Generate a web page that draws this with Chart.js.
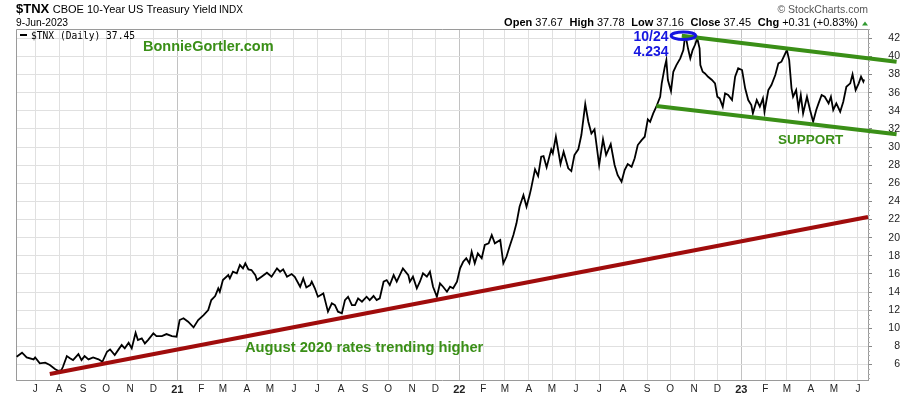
<!DOCTYPE html>
<html>
<head>
<meta charset="utf-8">
<script src="https://cdn.jsdelivr.net/npm/chart.js@4.4.0/dist/chart.umd.min.js"></script>
<style>
html,body{margin:0;padding:0;background:#fff;}
canvas{display:block;}
</style>
</head>
<body>
<canvas id="c" width="900" height="396"></canvas>
<script>
// ---------- DATA ----------
const dates = [
'2020-06-07','2020-06-14','2020-06-20','2020-06-29','2020-07-01','2020-07-07','2020-07-14','2020-07-20','2020-07-27','2020-07-31',
'2020-08-04','2020-08-06','2020-08-11','2020-08-15','2020-08-19','2020-08-26','2020-08-30','2020-09-03','2020-09-08','2020-09-14',
'2020-09-21','2020-09-26','2020-10-02','2020-10-06','2020-10-12','2020-10-17','2020-10-21','2020-10-25','2020-10-30','2020-11-03',
'2020-11-08','2020-11-11','2020-11-16','2020-11-20','2020-11-24','2020-12-01','2020-12-05','2020-12-12','2020-12-18','2020-12-25',
'2020-12-31',
'2021-01-04','2021-01-09','2021-01-15','2021-01-22','2021-01-28','2021-02-04','2021-02-10','2021-02-14','2021-02-19','2021-02-23',
'2021-02-25','2021-03-01','2021-03-08','2021-03-10','2021-03-14','2021-03-19','2021-03-23','2021-03-27','2021-03-30','2021-04-03',
'2021-04-07','2021-04-12','2021-04-14','2021-04-20','2021-04-27','2021-05-03','2021-05-10','2021-05-14','2021-05-18','2021-05-23',
'2021-05-29','2021-06-02','2021-06-09','2021-06-13','2021-06-17','2021-06-22','2021-06-24','2021-06-28','2021-07-02','2021-07-09',
'2021-07-15','2021-07-20','2021-07-24','2021-07-28','2021-08-02','2021-08-06','2021-08-10','2021-08-15','2021-08-19','2021-08-23',
'2021-08-28','2021-09-03','2021-09-07','2021-09-12','2021-09-16','2021-09-20','2021-09-25','2021-09-29','2021-10-03','2021-10-08',
'2021-10-12','2021-10-20','2021-10-27','2021-10-29','2021-11-02','2021-11-07','2021-11-11','2021-11-15','2021-11-20','2021-11-24',
'2021-11-28','2021-12-03','2021-12-07','2021-12-11','2021-12-16','2021-12-20','2021-12-24','2021-12-29',
'2022-01-02','2022-01-06','2022-01-10','2022-01-14','2022-01-17','2022-01-21','2022-01-25','2022-01-30','2022-02-03','2022-02-08',
'2022-02-12','2022-02-16','2022-02-23','2022-02-27','2022-03-03','2022-03-07','2022-03-12','2022-03-16','2022-03-20','2022-03-25',
'2022-03-29','2022-04-02','2022-04-04','2022-04-09','2022-04-13','2022-04-17','2022-04-20','2022-04-24','2022-04-30','2022-05-02',
'2022-05-06','2022-05-12','2022-05-16','2022-05-22','2022-05-26','2022-05-30','2022-06-04','2022-06-08','2022-06-13','2022-06-17',
'2022-06-21','2022-06-25','2022-07-01','2022-07-06','2022-07-10','2022-07-16','2022-07-21','2022-07-25','2022-07-30','2022-08-03',
'2022-08-07','2022-08-12','2022-08-16','2022-08-20','2022-08-25','2022-08-29','2022-09-02','2022-09-05','2022-09-09','2022-09-13',
'2022-09-18','2022-09-20','2022-09-24','2022-09-26','2022-09-28','2022-10-02','2022-10-05','2022-10-09','2022-10-14','2022-10-18',
'2022-10-20','2022-10-22','2022-10-24','2022-10-27','2022-10-30','2022-11-02','2022-11-05','2022-11-08','2022-11-09','2022-11-12',
'2022-11-15','2022-11-19','2022-11-24','2022-11-28','2022-12-01','2022-12-04','2022-12-08','2022-12-11','2022-12-15','2022-12-20',
'2022-12-24','2022-12-28',
'2023-01-02','2023-01-06','2023-01-10','2023-01-14','2023-01-16','2023-01-21','2023-01-25','2023-01-29','2023-01-31','2023-02-05',
'2023-02-09','2023-02-14','2023-02-18','2023-02-22','2023-02-25','2023-03-01','2023-03-04','2023-03-07','2023-03-09','2023-03-13',
'2023-03-16','2023-03-19','2023-03-22','2023-03-27','2023-03-31','2023-04-04','2023-04-08','2023-04-11','2023-04-15','2023-04-19',
'2023-04-24','2023-04-27','2023-04-30','2023-05-04','2023-05-09','2023-05-13','2023-05-17','2023-05-22','2023-05-25','2023-05-29',
'2023-06-02','2023-06-05','2023-06-08','2023-06-09'
];
const tnx = [
6.86,7.30,6.79,6.57,6.79,6.13,6.20,5.94,5.47,5.31,
5.39,5.75,6.93,6.68,6.49,7.15,6.49,6.93,6.57,6.79,
6.57,6.30,7.41,7.67,7.04,7.67,8.15,7.78,8.40,7.78,
9.50,8.70,8.89,8.33,8.70,9.44,9.14,9.14,9.36,9.14,
9.07,
10.91,11.10,10.72,10.10,10.91,11.46,12.01,13.11,13.56,14.41,
14.03,15.32,15.87,15.51,16.24,16.06,16.98,16.61,17.17,16.50,
16.43,15.87,15.32,15.69,16.13,15.69,16.61,16.24,16.50,15.69,
15.98,15.69,14.58,15.50,14.50,14.77,15.14,14.41,13.48,13.85,
11.83,12.75,12.56,11.83,11.65,13.11,13.48,12.56,12.56,13.30,
12.93,13.48,13.11,13.56,13.11,13.30,15.14,15.32,14.77,15.87,
15.14,16.61,15.87,15.14,15.69,14.41,15.14,16.06,15.69,16.24,
14.58,13.48,14.96,14.58,14.03,14.58,14.41,15.14,
16.61,17.34,17.72,17.17,18.45,17.17,18.27,17.72,19.19,19.37,
20.29,19.37,19.74,17.17,17.89,19.00,20.29,21.58,23.41,24.70,
23.41,24.70,25.44,27.54,26.80,28.93,29.00,27.76,29.75,29.31,
31.14,28.13,29.48,27.65,27.35,29.12,29.75,31.33,34.75,32.80,
31.50,31.95,28.02,30.85,29.12,30.33,28.02,26.90,26.17,27.46,
28.13,27.83,28.76,30.22,30.77,31.14,33.06,32.79,33.72,34.45,
35.55,37.03,38.87,39.60,37.40,36.18,38.31,39.05,39.79,40.71,
42.10,41.81,40.90,39.79,40.71,41.26,42.00,40.90,39.05,38.31,
38.13,37.76,37.40,37.03,35.55,35.37,34.45,35.93,35.74,35.19,
37.76,38.69,
38.50,36.48,35.19,34.64,33.72,35.19,34.45,35.37,33.90,36.29,
36.84,37.95,39.24,39.42,39.97,40.71,39.60,36.48,35.55,36.29,
34.27,35.74,33.72,35.55,34.09,32.79,34.09,34.82,35.74,35.55,
34.82,35.55,34.09,34.82,33.90,35.00,36.66,37.03,38.02,36.29,
37.03,37.76,37.21,37.45
];
const yTicks = [6,8,10,12,14,16,18,20,22,24,26,28,30,32,34,36,38,40,42];
const monthLetters = ['J','F','M','A','M','J','J','A','S','O','N','D'];
const xRange = ['2020-06-06','2023-06-14'];
const yRange = [4.29, 43.03];

// trend lines drawn on the chart
const trendDates = ['2020-07-20','2023-06-14'];
const trendValues = [4.95, 22.28];
const resistanceDates = ['2022-10-16','2023-07-21'];
const resistanceValues = [42.29, 39.42];
const supportDates = ['2022-09-13','2023-07-21'];
const supportValues = [34.53, 31.41];
const peakDate = '2022-10-18';
const peakValue = 42.29;

const ohlcLabels = ['Open','High','Low','Close','Chg'];
const ohlcValues = ['37.67','37.78','37.16','37.45','+0.31 (+0.83%)'];

// ---------- HELPERS ----------
const FONT = "'Liberation Sans', Arial, sans-serif";
const GREEN = '#3a8f17';
const BLUE = '#1515e0';
function day(s){ const p = s.split('-').map(Number); return Date.UTC(p[0], p[1]-1, p[2]) / 864e5; }
function isJan(v){ return new Date(v*864e5).getUTCMonth() === 0; }
const monthTicks = [];
for (let y = 2020, m = 6; y < 2023 || (y === 2023 && m <= 5); ) {
  monthTicks.push(Date.UTC(y, m, 1) / 864e5);
  m++; if (m > 11) { m = 0; y++; }
}
const pts = (ds, vs) => ds.map((d, i) => ({x: day(d), y: vs[i]}));

const overlay = {
  id: 'overlay',
  beforeDatasetsDraw(chart){
    const c = chart.ctx, a = chart.chartArea, ys = chart.scales.y;
    c.save();
    c.strokeStyle = '#9a9a9a'; c.lineWidth = 1;
    c.beginPath();
    c.moveTo(a.left + 0.5, a.bottom); c.lineTo(a.left + 0.5, a.top + 0.5); c.lineTo(a.right, a.top + 0.5);
    c.stroke();
    // minor ticks on the right axis
    c.strokeStyle = '#b0b0b0';
    c.beginPath();
    for (let v = Math.ceil(yRange[0]*2)/2; v <= yRange[1]; v += 0.5) {
      if (v % 2 === 0) continue;
      const py = Math.round(ys.getPixelForValue(v)) + 0.5;
      c.moveTo(a.right, py); c.lineTo(a.right + 2, py);
    }
    c.stroke();
    c.restore();
  },
  afterDatasetsDraw(chart){
    const c = chart.ctx;
    const cx = chart.scales.x.getPixelForValue(day(peakDate));
    const cy = chart.scales.y.getPixelForValue(peakValue);
    c.save();
    c.strokeStyle = BLUE; c.lineWidth = 3;
    c.beginPath(); c.ellipse(cx, cy, 12.2, 3.8, 0, 0, Math.PI*2); c.stroke();
    c.restore();
  },
  afterDraw(chart){
    const c = chart.ctx;
    c.save();
    c.textBaseline = 'alphabetic';
    // title
    c.fillStyle = '#000';
    c.font = 'bold 13px ' + FONT; c.fillText('$TNX', 16, 13);
    c.font = '11px ' + FONT; c.fillText('CBOE 10-Year US Treasury Yield', 52.7, 13);
    c.font = '10px ' + FONT; c.fillText('INDX', 219, 13);
    c.font = '10.3px ' + FONT; c.fillText('9-Jun-2023', 16, 26);
    // copyright
    c.fillStyle = '#555'; c.font = '10.5px ' + FONT; c.textAlign = 'right';
    c.fillText('\u00A9 StockCharts.com', 868, 13);
    c.textAlign = 'left';
    // OHLC line
    const bold = 'bold 11px ' + FONT, norm = '11px ' + FONT;
    let total = 0; const gap = 6.7;
    const parts = [];
    ohlcLabels.forEach((l, i) => {
      c.font = bold; const wl = c.measureText(l).width;
      c.font = norm; const wv = c.measureText(' ' + ohlcValues[i]).width;
      parts.push([l, ohlcValues[i], wl, wv]);
      total += wl + wv + (i ? gap : 0);
    });
    let x = 858 - total;
    c.fillStyle = '#000';
    parts.forEach((p, i) => {
      if (i) x += gap;
      c.font = bold; c.fillText(p[0], x, 26); x += p[2];
      c.font = norm; c.fillText(' ' + p[1], x, 26); x += p[3];
    });
    c.fillStyle = '#2f9a2f';
    c.beginPath(); c.moveTo(862, 25.5); c.lineTo(868, 25.5); c.lineTo(865, 21.5); c.closePath(); c.fill();
    // legend inside plot
    c.strokeStyle = '#000'; c.lineWidth = 2;
    c.beginPath(); c.moveTo(20, 35); c.lineTo(27, 35); c.stroke();
    c.fillStyle = '#000'; c.font = "9.6px 'DejaVu Sans Mono', monospace";
    c.fillText('$TNX (Daily) ' + tnx[tnx.length-1].toFixed(2), 31, 38.5);
    // annotations
    c.fillStyle = GREEN; c.font = 'bold 14.5px ' + FONT;
    c.fillText('BonnieGortler.com', 143, 51);
    c.font = 'bold 14.7px ' + FONT;
    c.fillText('August 2020 rates trending higher', 245, 351.5);
    c.font = 'bold 13.5px ' + FONT;
    c.fillText('SUPPORT', 778, 144);
    c.fillStyle = BLUE; c.font = 'bold 14px ' + FONT;
    c.fillText('10/24', 633.5, 40.5);
    c.fillText('4.234', 633.5, 56.3);
    c.restore();
  }
};

new Chart(document.getElementById('c'), {
  type: 'line',
  data: {
    datasets: [
      {label: 'Trend', data: pts(trendDates, trendValues), borderColor: '#a00c0c', borderWidth: 4, pointRadius: 0, clip: false, borderCapStyle: 'butt'},
      {label: 'Resistance', data: pts(resistanceDates, resistanceValues), borderColor: GREEN, borderWidth: 4, pointRadius: 0, clip: false},
      {label: 'Support', data: pts(supportDates, supportValues), borderColor: GREEN, borderWidth: 4, pointRadius: 0, clip: false},
      {label: '$TNX', data: pts(dates, tnx), borderColor: '#000', borderWidth: 1.8, pointRadius: 0, tension: 0}
    ]
  },
  options: {
    responsive: false,
    animation: false,
    devicePixelRatio: 1,
    layout: {padding: {left: 16, top: 29, right: 0, bottom: 0}},
    plugins: {legend: {display: false}, tooltip: {enabled: false}},
    scales: {
      x: {
        type: 'linear',
        min: day(xRange[0]) + 0.2,
        max: day(xRange[1]),
        afterBuildTicks: s => { s.ticks = monthTicks.map(v => ({value: v})); },
        afterFit: s => { s.height = 16; },
        grid: {
          color: ctx => (ctx.tick && isJan(ctx.tick.value)) ? '#c2c2c2' : '#e0e0e0',
          drawTicks: false
        },
        border: {color: '#9a9a9a'},
        ticks: {
          autoSkip: false, maxRotation: 0, padding: 3, color: '#222',
          font: ctx => ({family: FONT, size: (ctx.tick && isJan(ctx.tick.value)) ? 11 : 10, weight: (ctx.tick && isJan(ctx.tick.value)) ? 'bold' : 'normal'}),
          callback: v => { const d = new Date(v*864e5); const m = d.getUTCMonth(); return m === 0 ? String(d.getUTCFullYear()).slice(2) : monthLetters[m]; }
        }
      },
      y: {
        position: 'right',
        min: yRange[0], max: yRange[1],
        afterBuildTicks: s => { s.ticks = yTicks.map(v => ({value: v})); },
        afterFit: s => { s.width = 32; },
        grid: {color: '#e0e0e0', tickLength: 4, tickColor: '#888'},
        border: {color: '#9a9a9a'},
        ticks: {padding: 0, crossAlign: 'far', color: '#222', font: {family: FONT, size: 10.5}}
      }
    }
  },
  plugins: [overlay]
});
</script>
</body>
</html>
